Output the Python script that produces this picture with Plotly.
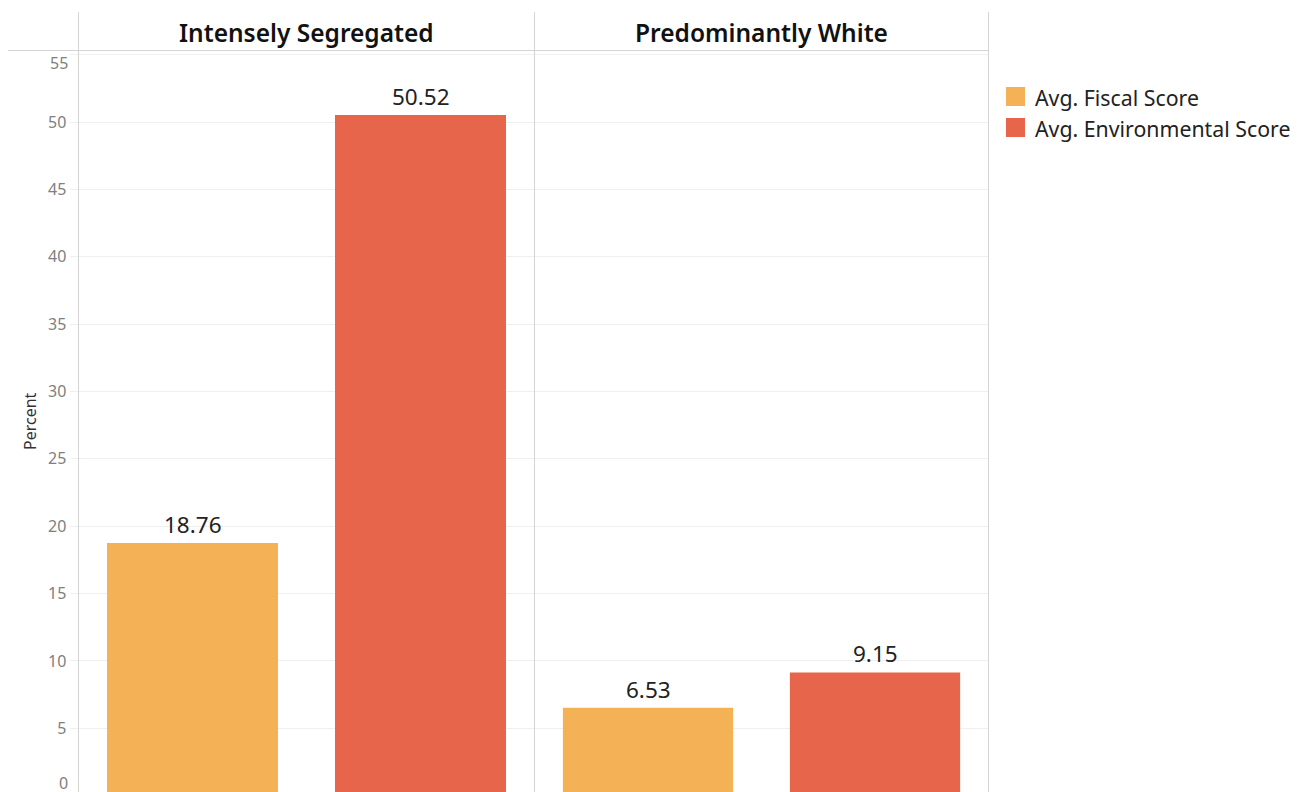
import plotly.graph_objects as go

# Data
groups = ["Intensely Segregated", "Predominantly White"]
measures = ["Avg. Fiscal Score", "Avg. Environmental Score"]
fiscal = [18.76, 6.53]
environmental = [50.52, 9.15]
y_ticks = [5, 10, 15, 20, 25, 30, 35, 40, 45, 50, 55]

colors = {"Avg. Fiscal Score": "#F5B155", "Avg. Environmental Score": "#E7654A"}

W, H = 1309, 792
FONT = "Noto Sans"

def px_x(p):
    return p / W

def px_y(p):
    return (H - p) / H

# Panel geometry (pixels)
panel_edges = [78.5, 534.5, 988.5]
plot_top = 51

fig = go.Figure()

series = {"Avg. Fiscal Score": fiscal, "Avg. Environmental Score": environmental}
for gi, g in enumerate(groups):
    xa = "x" if gi == 0 else "x2"
    for m in measures:
        val = series[m][gi]
        fig.add_trace(go.Bar(
            x=[m], y=[val], xaxis=xa, yaxis="y",
            marker=dict(color=colors[m], line=dict(width=0)),
            showlegend=False, hoverinfo="skip",
        ))
        fig.add_annotation(
            x=m, y=val, xref=xa, yref="y", text=f"{val:.2f}",
            showarrow=False, xanchor="center", yanchor="bottom", yshift=1,
            font=dict(family=FONT, size=22.5, color="#222222"),
        )

y_lo, y_hi = 0.27, 55.28
dom_y = [0, px_y(plot_top)]

fig.update_layout(
    width=W, height=H,
    margin=dict(l=0, r=0, t=0, b=0),
    paper_bgcolor="white", plot_bgcolor="white",
    bargap=0.25,
    showlegend=False,
    xaxis=dict(domain=[px_x(panel_edges[0]), px_x(panel_edges[1])],
               categoryorder="array", categoryarray=measures,
               showticklabels=False, showgrid=False, zeroline=False,
               showline=False, ticks=""),
    xaxis2=dict(domain=[px_x(panel_edges[1]), px_x(panel_edges[2])],
                categoryorder="array", categoryarray=measures,
                showticklabels=False, showgrid=False, zeroline=False,
                showline=False, ticks="", anchor="y"),
    yaxis=dict(domain=dom_y, range=[y_lo, y_hi],
               tickvals=y_ticks,
               ticktext=[str(v) if v != 55 else "" for v in y_ticks],
               showgrid=True, gridcolor="#EFEFEF", gridwidth=1,
               zeroline=False, showline=False,
               ticks="outside", ticklen=8, tickcolor="#EFEFEF",
               tickfont=dict(family=FONT, size=16, color="#808080")),
)

# Edge tick labels shifted inside the plot area
for txt, yc in [("55", 63), ("0", 783)]:
    fig.add_annotation(x=px_x(68.5), y=px_y(yc), xref="paper", yref="paper",
                       text=txt, showarrow=False, xanchor="right", yanchor="middle",
                       borderpad=0,
                       font=dict(family=FONT, size=16, color="#808080"))

# Axis title
fig.add_annotation(x=px_x(30), y=px_y(421), xref="paper", yref="paper",
                   text="Percent", showarrow=False, textangle=-90,
                   xanchor="center", yanchor="middle",
                   font=dict(family=FONT, size=16, color="#333333"))

# Panel headers
for gi, g in enumerate(groups):
    cx = (panel_edges[gi] + panel_edges[gi + 1]) / 2
    fig.add_annotation(x=px_x(cx), y=px_y(33), xref="paper", yref="paper",
                       text=g, showarrow=False, xanchor="center", yanchor="middle",
                       font=dict(family=FONT, size=24.5, color="#111111", weight=600))

# Frame lines
line_col = "#D4D4D4"
for xe in panel_edges:
    fig.add_shape(type="line", xref="paper", yref="paper",
                  x0=px_x(xe), x1=px_x(xe), y0=px_y(12), y1=0,
                  line=dict(color=line_col, width=1))
fig.add_shape(type="line", xref="paper", yref="paper",
              x0=px_x(8), x1=px_x(988.5), y0=px_y(50.5), y1=px_y(50.5),
              line=dict(color=line_col, width=1))

# Legend
for i, m in enumerate(measures):
    top = 87 + i * 31
    fig.add_shape(type="rect", xref="paper", yref="paper",
                  x0=px_x(1006), x1=px_x(1025), y0=px_y(top), y1=px_y(top + 19),
                  fillcolor=colors[m], line=dict(width=0))
    fig.add_annotation(x=px_x(1033), y=px_y(top + 10), xref="paper", yref="paper",
                       text=m, showarrow=False, xanchor="left", yanchor="middle",
                       font=dict(family=FONT, size=21.3, color="#222222"))

fig.write_html("out.html")
